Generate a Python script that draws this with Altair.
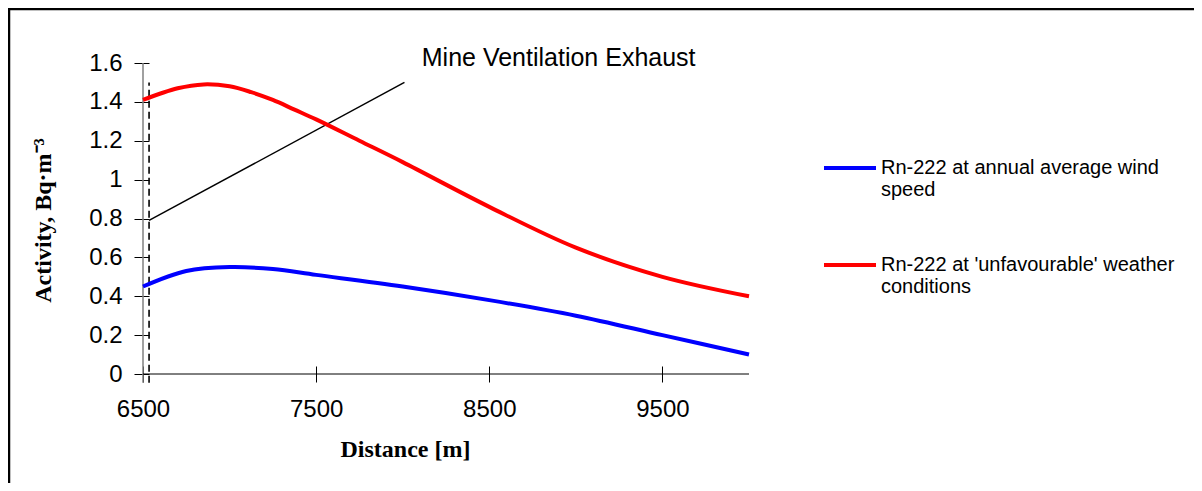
import altair as alt
import pandas as pd

# ---- data ----
distance_unfav = [6500, 6700, 6850, 7000, 7125, 7250, 7375, 7500, 7750, 8000, 8500, 9000, 9500, 10000]
activity_unfav = [1.41, 1.47, 1.49, 1.48, 1.45, 1.41, 1.36, 1.31, 1.20, 1.09, 0.86, 0.65, 0.50, 0.40]
distance_avg = [6500, 6750, 7000, 7250, 7500, 8000, 8500, 9000, 9500, 10000]
activity_avg = [0.45, 0.53, 0.55, 0.54, 0.51, 0.45, 0.38, 0.30, 0.20, 0.10]

series_names = ["Rn-222 at annual average wind speed",
                "Rn-222 at 'unfavourable' weather conditions"]
series_colors = ["#0000FF", "#FF0000"]

x_ticks = [6500, 7500, 8500, 9500]
y_ticks = [0, 0.2, 0.4, 0.6, 0.8, 1.0, 1.2, 1.4, 1.6]

# annotation: leader line, dashed source marker and label
leader_x = [6535, 8010]
leader_y = [0.79, 1.50]
source_x = 6535
source_y = [-0.045, 1.50]
label_text = "Mine Ventilation Exhaust"
label_x = 8110
label_y = 1.585

rows = []
for d, a in zip(distance_avg, activity_avg):
    rows.append({"Distance": d, "Activity": a, "Series": series_names[0]})
for d, a in zip(distance_unfav, activity_unfav):
    rows.append({"Distance": d, "Activity": a, "Series": series_names[1]})
df = pd.DataFrame(rows)

xs = alt.Scale(domain=[6500, 10000], nice=False, zero=False)
ys = alt.Scale(domain=[0, 1.6], nice=False)

W, H = 606, 311
PAD = {"left": 135, "top": 55, "right": 445, "bottom": 109}

x_axis = alt.Axis(values=x_ticks, format="d", title="Distance [m]", grid=False, domain=False,
                  offset=-8, tickSize=16, tickColor="black", tickWidth=1,
                  labelFont="Liberation Sans", labelFontSize=24, labelColor="black",
                  labelPadding=15, labelFlush=False, labelOverlap=False,
                  titleFont="Liberation Serif", titleFontSize=24, titleFontWeight="bold",
                  titleColor="black", titleX=262, titleY=90,
                  titleAlign="center", titleBaseline="alphabetic")
y_axis = alt.Axis(values=y_ticks, title="Activity, Bq·m⁻³", grid=False, domain=False,
                  offset=-6, tickSize=15, tickColor="black", tickWidth=1,
                  labelFont="Liberation Sans", labelFontSize=24, labelColor="black",
                  labelPadding=12, labelFlush=False, labelOverlap=False,
                  labelExpr="datum.value == 1 ? '1' : (datum.value == 0 ? '0' : format(datum.value, '.1f'))",
                  titleFont="Liberation Serif", titleFontSize=24, titleFontWeight="bold",
                  titleColor="black", titleAngle=270, titleX=-99, titleY=157,
                  titleAlign="center", titleBaseline="alphabetic")


def xq(f):
    return alt.X(f, scale=xs, axis=x_axis)


def yq(f):
    return alt.Y(f, scale=ys, axis=y_axis)


lines = alt.Chart(df).mark_line(strokeWidth=4, interpolate="catmull-rom").encode(
    x=xq("Distance:Q"),
    y=yq("Activity:Q"),
    color=alt.Color("Series:N",
                    scale=alt.Scale(domain=series_names, range=series_colors),
                    legend=alt.Legend(title=None, orient="none", legendX=679, legendY=77,
                                      symbolType="stroke", symbolSize=2704, symbolStrokeWidth=4,
                                      labelFont="Liberation Sans", labelFontSize=20,
                                      labelColor="black", labelLimit=500, labelOffset=3,
                                      labelBaseline="middle",
                                      labelExpr="[slice(datum.label, 0, lastindexof(datum.label, ' ')), slice(datum.label, lastindexof(datum.label, ' ') + 1)]",
                                      rowPadding=37)),
)

leader = alt.Chart(pd.DataFrame({"x": leader_x, "y": leader_y})).mark_line(
    color="black", strokeWidth=1.5).encode(x=xq("x:Q"), y=yq("y:Q"))

source = alt.Chart(pd.DataFrame({"x": [source_x], "y": [source_y[0]], "y2": [source_y[1]]})).mark_rule(
    color="black", strokeWidth=1.6, strokeDash=[7, 4]).encode(
    x=xq("x:Q"), y=yq("y:Q"), y2="y2:Q")

ydomain = alt.Chart(pd.DataFrame({"x": [6500], "y": [-0.045], "y2": [1.6]})).mark_rule(
    color="#808080", strokeWidth=1.5).encode(
    x=xq("x:Q"), y=yq("y:Q"), y2="y2:Q")

xdomain = alt.Chart(pd.DataFrame({"x": [6500], "x2": [10000], "y": [0]})).mark_rule(
    color="black", strokeWidth=1).encode(
    x=xq("x:Q"), x2="x2:Q", y=yq("y:Q"))

label = alt.Chart(pd.DataFrame({"x": [label_x], "y": [label_y], "t": [label_text]})).mark_text(
    font="Liberation Sans", fontSize=25, color="black", align="left", baseline="alphabetic").encode(
    x=xq("x:Q"), y=yq("y:Q"), text="t:N")

frame = alt.Chart(pd.DataFrame({"a": [0]})).mark_rect(
    fill=None, stroke="black", strokeWidth=2.5).encode(
    x=alt.value(-134), x2=alt.value(W + PAD["right"] + 20),
    y=alt.value(-54), y2=alt.value(H + PAD["bottom"] + 20))

chart = alt.layer(frame, ydomain, xdomain, source, leader, lines, label).properties(
    width=W, height=H, padding=PAD,
    autosize=alt.AutoSizeParams(type="none"),
    background="white",
).configure_view(stroke=None)

chart.save("out.html", embed_options={"renderer": "svg", "actions": False})
